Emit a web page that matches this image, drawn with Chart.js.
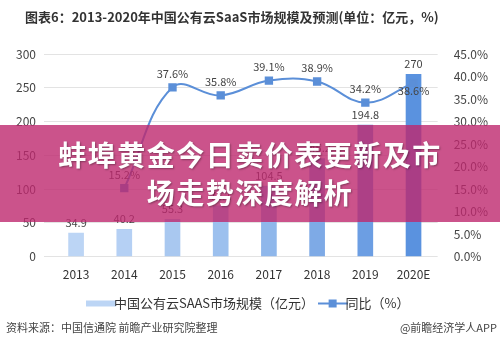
<!DOCTYPE html>
<html>
<head>
<meta charset="utf-8">
<script src="https://cdn.jsdelivr.net/npm/chart.js@4.4.1/dist/chart.umd.min.js"></script>
<style>
  html, body { margin: 0; padding: 0; background: #fff; }
  body { width: 500px; height: 350px; position: relative; overflow: hidden; font-family: "Noto Sans CJK SC", "Noto Sans", sans-serif; }
  #chart-wrap { position: absolute; left: 0; top: 0; width: 500px; height: 350px; }
  .title { position: absolute; left: 25px; top: 7px; font-size: 13px; font-weight: bold; color: #333; white-space: nowrap; }
  .source { position: absolute; left: 6px; top: 319px; font-size: 11px; color: #444; }
  .brand { position: absolute; right: 3px; top: 319px; font-size: 11px; color: #444; }
  .banner { position: absolute; left: 0; top: 125px; width: 500px; height: 97px; background: rgba(190, 40, 110, 0.8);
            color: #fff; font-weight: bold; font-size: 28px; letter-spacing: 1.5px; text-align: center; line-height: 38px;
            padding-top: 10px; box-sizing: border-box; text-shadow: 1px 1px 2px rgba(0,0,0,0.35); }
</style>
</head>
<body>
<div id="chart-wrap"><canvas id="chart" width="500" height="350"></canvas></div>
<div class="title">图表6：2013-2020年中国公有云SaaS市场规模及预测(单位：亿元，%)</div>
<div class="source">资料来源：中国信通院 前瞻产业研究院整理</div>
<div class="brand">@前瞻经济学人APP</div>
<div class="banner">蚌埠黄金今日卖价表更新及市<br>场走势深度解析</div>
<script>
var years = ['2013', '2014', '2015', '2016', '2017', '2018', '2019', '2020E'];
var marketSize = [34.9, 40.2, 55.3, 75.1, 104.5, 145.2, 194.8, 270];
var growthRate = [null, 15.2, 37.6, 35.8, 39.1, 38.9, 34.2, 38.6];
var sizeTicks = [0, 50, 100, 150, 200, 250, 300];
var rateTicks = [0, 5, 10, 15, 20, 25, 30, 35, 40, 45];

var barColors = ['#bcd5f5', '#b5d0f4', '#a9c8f0', '#9cc0ee', '#8fb7eb', '#7eaae6', '#6c9ee3', '#5a92df'];
var lineColor = '#5b8fd8';
var fontFamily = '"Noto Sans CJK SC", "Noto Sans", sans-serif';

function legendIcon(kind) {
    var c = document.createElement('canvas');
    c.width = 30; c.height = 10;
    var g = c.getContext('2d');
    if (kind === 'bar') {
        g.fillStyle = '#bcd5f5';
        g.fillRect(0, 2, 30, 6);
    } else {
        g.strokeStyle = lineColor;
        g.lineWidth = 2;
        g.beginPath(); g.moveTo(0, 5); g.lineTo(30, 5); g.stroke();
        g.fillStyle = lineColor;
        g.fillRect(11, 1, 8, 8);
    }
    return c;
}

// value labels above bars and points
var valueLabels = {
    id: 'valueLabels',
    afterDatasetsDraw: function (chart) {
        var ctx = chart.ctx;
        ctx.save();
        ctx.font = '11px ' + fontFamily;
        ctx.fillStyle = '#444';
        ctx.textAlign = 'center';
        ctx.textBaseline = 'bottom';
        chart.getDatasetMeta(0).data.forEach(function (bar, i) {
            ctx.fillText(String(marketSize[i]), bar.x, bar.y - 5);
        });
        var lineMeta = chart.getDatasetMeta(1);
        lineMeta.data.forEach(function (pt, i) {
            if (growthRate[i] === null) return;
            var dy = (i === growthRate.length - 1) ? 13 : -8;
            ctx.fillText(growthRate[i].toFixed(1) + '%', pt.x, pt.y + dy);
        });
        ctx.restore();
    }
};

var ctx = document.getElementById('chart');
var chart = new Chart(ctx, {
    type: 'bar',
    data: {
        labels: years,
        datasets: [
            {
                type: 'bar',
                label: '中国公有云SAAS市场规模（亿元）',
                data: marketSize,
                backgroundColor: barColors,
                barThickness: 15,
                yAxisID: 'y',
                order: 2
            },
            {
                type: 'line',
                label: '同比（%）',
                data: growthRate,
                borderColor: lineColor,
                backgroundColor: lineColor,
                borderWidth: 2,
                tension: 0.4,
                pointStyle: 'rect',
                pointRadius: 4.5,
                yAxisID: 'y1',
                order: 1
            }
        ]
    },
    options: {
        responsive: false,
        animation: false,
        layout: { padding: { top: 54, left: 8, right: 4, bottom: 30 } },
        plugins: {
            legend: {
                position: 'bottom',
                labels: {
                    usePointStyle: true,
                    font: { size: 13, family: fontFamily },
                    color: '#333',
                    padding: 12,
                    generateLabels: function (chart) {
                        return [
                            { text: '中国公有云SAAS市场规模（亿元）', pointStyle: legendIcon('bar'), datasetIndex: 0, fontColor: '#333' },
                            { text: '同比（%）', pointStyle: legendIcon('line'), datasetIndex: 1, fontColor: '#333' }
                        ];
                    }
                }
            },
            tooltip: { enabled: false }
        },
        scales: {
            x: {
                grid: { display: false },
                border: { display: false },
                ticks: { color: '#333', font: { size: 12, family: fontFamily } }
            },
            y: {
                position: 'left',
                min: 0, max: 300,
                afterBuildTicks: function (axis) { axis.ticks = sizeTicks.map(function (v) { return { value: v }; }); },
                grid: { color: '#e3e3e3' },
                border: { display: false },
                ticks: { color: '#444', font: { size: 12, family: fontFamily }, padding: 8 }
            },
            y1: {
                position: 'right',
                min: 0, max: 45,
                afterBuildTicks: function (axis) { axis.ticks = rateTicks.map(function (v) { return { value: v }; }); },
                grid: { display: false },
                border: { display: false },
                ticks: {
                    color: '#444', font: { size: 12, family: fontFamily }, padding: 8,
                    callback: function (v) { return v.toFixed(1) + '%'; }
                }
            }
        }
    },
    plugins: [valueLabels]
});
</script>
</body>
</html>
